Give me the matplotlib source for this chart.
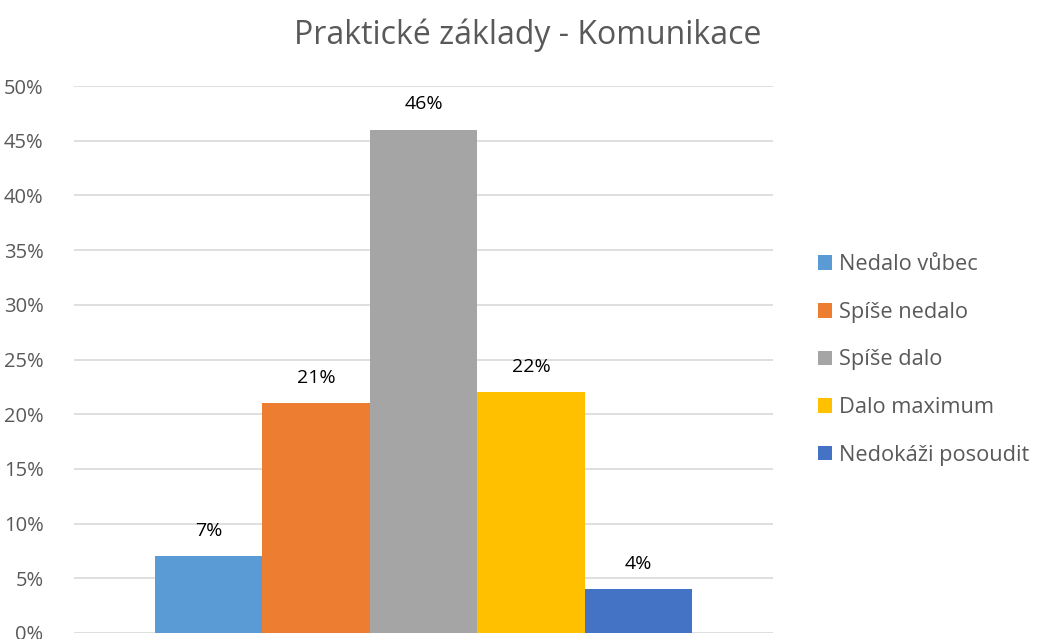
import matplotlib.pyplot as plt
from matplotlib.patches import Patch

# Data
categories = ['Nedalo vůbec', 'Spíše nedalo', 'Spíše dalo', 'Dalo maximum', 'Nedokáži posoudit']
values = [7, 21, 46, 22, 4]
colors = ['#5B9BD5', '#ED7D31', '#A5A5A5', '#FFC000', '#4472C4']
yticks = [0, 5, 10, 15, 20, 25, 30, 35, 40, 45, 50]

plt.rcParams['font.family'] = ['Open Sans', 'DejaVu Sans']

fig = plt.figure(figsize=(10.41, 6.39), dpi=100)
ax = fig.add_axes([74/1041, 6/639, (773-74)/1041, (633-86)/639])

x = list(range(len(values)))
bars = ax.bar(x, values, width=1.0, color=colors, zorder=3)
for xi, v in zip(x, values):
    ax.text(xi, v + 1.5, f'{v}%', ha='center', va='bottom', fontsize=14, color='black')

ax.set_xlim(-1.25, 5.25)
ax.set_ylim(0, 50)
ax.set_yticks(yticks)
ax.set_yticklabels([f'{t}%' for t in yticks], fontsize=14.5, color='#595959')
ax.set_xticks([])
ax.grid(axis='y', color='#D9D9D9', linewidth=1.2, zorder=0)
ax.tick_params(axis='y', length=0, pad=22)
for s in ax.spines.values():
    s.set_visible(False)

fig.text(528/1041, 1 - 35/639, 'Praktické základy - Komunikace', ha='center', va='center',
         fontsize=23, color='#595959')

handles = [Patch(facecolor=c, label=l) for c, l in zip(colors, categories)]
fig.legend(handles=handles, loc='center left', bbox_to_anchor=(798/1041, 1 - 360/639),
           frameon=False, fontsize=15.7, labelcolor='#595959', handlelength=0.65,
           handleheight=0.65, handletextpad=0.35, labelspacing=1.22)

fig.savefig('out.png', dpi=100)
